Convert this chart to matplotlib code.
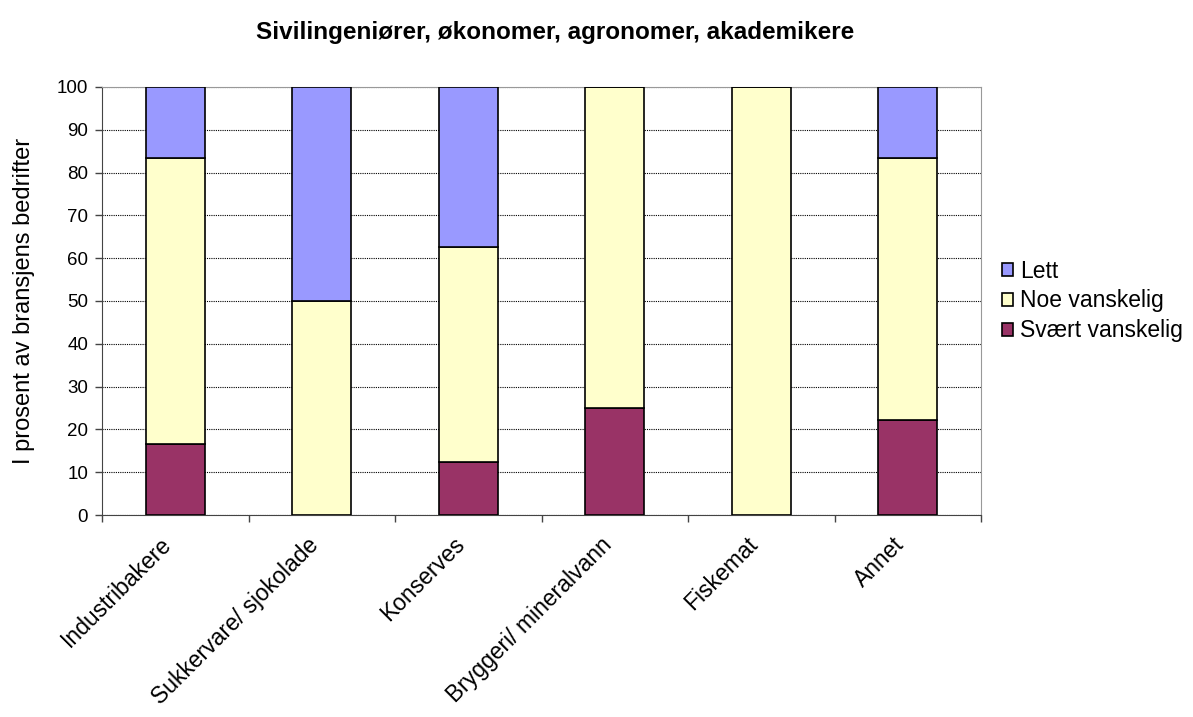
import numpy as np
import matplotlib.pyplot as plt
import matplotlib.transforms as mtransforms

plt.rcParams['font.family'] = ['Liberation Sans', 'DejaVu Sans']

categories = ['Industribakere', 'Sukkervare/ sjokolade', 'Konserves',
              'Bryggeri/ mineralvann', 'Fiskemat', 'Annet']
svaert = [16.7, 0, 12.5, 25, 0, 22.2]
noe = [66.6, 50, 50, 75, 100, 61.1]
lett = [16.7, 50, 37.5, 0, 0, 16.7]

fig = plt.figure(figsize=(11.93, 7.17), dpi=100)
ax = fig.add_axes([0.0855, 0.2817, 0.7368, 0.597])

x = np.arange(len(categories))
w = 0.4
b1 = ax.bar(x, svaert, w, color='#993366', edgecolor='black', linewidth=1.2, label='Svært vanskelig', zorder=3)
b2 = ax.bar(x, noe, w, bottom=svaert, color='#FFFFCC', edgecolor='black', linewidth=1.2, label='Noe vanskelig', zorder=3)
bot = np.array(svaert) + np.array(noe)
b3 = ax.bar(x, lett, w, bottom=bot, color='#9999FF', edgecolor='black', linewidth=1.2, label='Lett', zorder=3)

ax.set_xlim(-0.5, len(categories) - 0.5)
ax.set_ylim(0, 100)
ax.set_yticks(range(0, 101, 10))
ax.yaxis.grid(True, linestyle=(0, (1, 1)), color='black', linewidth=0.8, zorder=0)

ax.set_xticks(np.arange(-0.5, len(categories), 1))
ax.set_xticklabels([])
ax.set_xticks(x, minor=True)
ax.set_xticklabels(categories, minor=True, rotation=45, ha='right', va='top',
                   rotation_mode='anchor', fontsize=16.5)
ax.tick_params(axis='x', which='minor', length=0, pad=13)
ax.tick_params(axis='x', which='major', length=5, width=1, color='#444444')
ax.tick_params(axis='y', length=5, width=1, color='#444444', labelsize=13.5, pad=5)

# nudge the slanted category labels a bit to the left
shift = mtransforms.ScaledTranslation(-0.15, 0, fig.dpi_scale_trans)
for lab in ax.get_xticklabels(minor=True):
    lab.set_transform(lab.get_transform() + shift)

for s in ['top', 'right']:
    ax.spines[s].set_color('#999999')
ax.spines['left'].set_color('#444444')
ax.spines['bottom'].set_color('#444444')

ax.set_ylabel('I prosent av bransjens bedrifter', fontsize=17, labelpad=16)
fig.text(0.465, 0.955, 'Sivilingeniører, økonomer, agronomer, akademikere',
         ha='center', va='center', fontsize=17.5, fontweight='bold')

ax.legend(handles=[b3, b2, b1], loc='center left', bbox_to_anchor=(1.0, 0.5),
          frameon=False, fontsize=16.5, handlelength=0.5, handleheight=0.5,
          handletextpad=0.3, labelspacing=0.3, borderaxespad=0.5)

fig.savefig('out.png', dpi=100)
